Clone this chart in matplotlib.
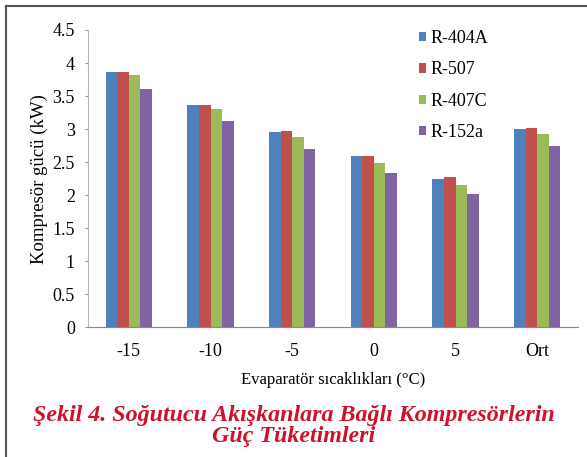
import matplotlib.pyplot as plt
import numpy as np

kategoriler = ['-15', '-10', '-5', '0', '5', 'Ort']
r404a = [3.86, 3.37, 2.96, 2.59, 2.25, 3.00]
r507 = [3.87, 3.37, 2.97, 2.60, 2.28, 3.02]
r407c = [3.82, 3.31, 2.88, 2.49, 2.15, 2.93]
r152a = [3.60, 3.12, 2.70, 2.33, 2.02, 2.75]

seriler = [r404a, r507, r407c, r152a]
isimler = ['R-404A', 'R-507', 'R-407C', 'R-152a']
renkler = ['#4F81BD', '#C0504D', '#9BBB59', '#8064A2']

plt.rcParams['font.family'] = ['Liberation Serif', 'DejaVu Serif']

fig = plt.figure(figsize=(5.87, 4.57), dpi=100)
ax = fig.add_axes([0.1499, 0.2838, 0.835, 0.6506])

x = np.arange(len(kategoriler))
w = 0.1415
for i in range(4):
    ax.bar(x + (i - 1.5) * w, seriler[i], w, color=renkler[i], label=isimler[i])

ax.set_xlim(-0.5, len(kategoriler) - 0.5)
ax.set_ylim(0, 4.5)
ax.set_yticks(np.arange(0, 4.51, 0.5))
ax.set_yticklabels(['0', '0.5', '1', '1.5', '2', '2.5', '3', '3.5', '4', '4.5'])
ax.set_xticks(x)
ax.set_xticklabels(kategoriler)
ax.tick_params(axis='x', length=0, pad=11, labelsize=13)
ax.tick_params(axis='y', length=2.5, width=0.8, color='#999999', pad=7, labelsize=13)
for s in ['top', 'right']:
    ax.spines[s].set_visible(False)
ax.spines['left'].set_color('#b8b8b8')
ax.spines['bottom'].set_color('#888888')

ax.set_ylabel('Kompresör gücü (kW)', fontsize=13.5, labelpad=3)
ax.set_xlabel('Evaparatör sıcaklıkları (°C)', fontsize=12, labelpad=9)

leg = ax.legend(loc='upper left', bbox_to_anchor=(0.642, 1.055), frameon=False,
                fontsize=13, handlelength=0.42, handleheight=0.42,
                handletextpad=0.25, labelspacing=0.8)

fig.text(0.5, 0.068, 'Şekil 4. Soğutucu Akışkanlara Bağlı Kompresörlerin\nGüç Tüketimleri',
         ha='center', va='center', color='#D0112B', fontsize=17.3,
         fontweight='bold', fontstyle='italic', linespacing=0.95)

# cerceve (ust ve sol cizgi)
fig.add_artist(plt.Line2D([5.5 / 587, 1], [1 - 5.5 / 457, 1 - 5.5 / 457],
                          color='#555555', lw=1.5, transform=fig.transFigure))
fig.add_artist(plt.Line2D([5.5 / 587, 5.5 / 587], [0, 1 - 5.5 / 457],
                          color='#555555', lw=1.5, transform=fig.transFigure))

fig.savefig('out.png', dpi=100)
